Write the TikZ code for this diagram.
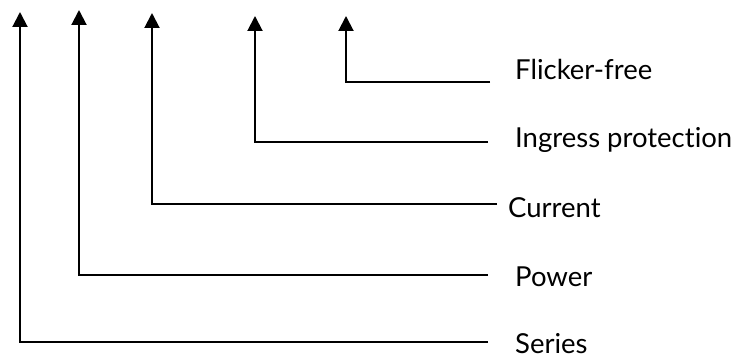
\documentclass[tikz,border=0pt]{standalone}
\usepackage{fontspec}
\setmainfont{Lato}[Ligatures={NoCommon,NoRare}]
\usetikzlibrary{arrows.meta}
\begin{document}
\begin{tikzpicture}[x=1pt,y=-1pt,
  lbl/.style={anchor=base west,inner sep=0pt,font=\fontsize{27.5}{32}\selectfont},
  leader/.style={line width=2pt,-{Triangle[length=15pt,width=15pt]}}]
\useasboundingbox (0,0) rectangle (735,358);
% labels
\node[lbl] (ff) at (515,80) {Flicker-free};
\node[lbl] (ip) at (515,147) {Ingress protection};
\node[lbl] (cu) at (508,217) {Current};
\node[lbl] (pw) at (515,286) {Power};
\node[lbl] (se) at (515,353) {Series};
% arrow tips
\coordinate (tse) at (20,12);
\coordinate (tpw) at (79,10);
\coordinate (tcu) at (152,13);
\coordinate (tip) at (255,16);
\coordinate (tff) at (346,16);
% leader lines
\draw[leader] ([xshift=-25pt]ff.base west |- 0,82) -| (tff);
\draw[leader] ([xshift=-27pt]ip.base west |- 0,142) -| (tip);
\draw[leader] ([xshift=-11pt]cu.base west |- 0,204) -| (tcu);
\draw[leader] ([xshift=-27pt]pw.base west |- 0,275) -| (tpw);
\draw[leader] ([xshift=-27pt]se.base west |- 0,342) -| (tse);
\end{tikzpicture}
\end{document}
